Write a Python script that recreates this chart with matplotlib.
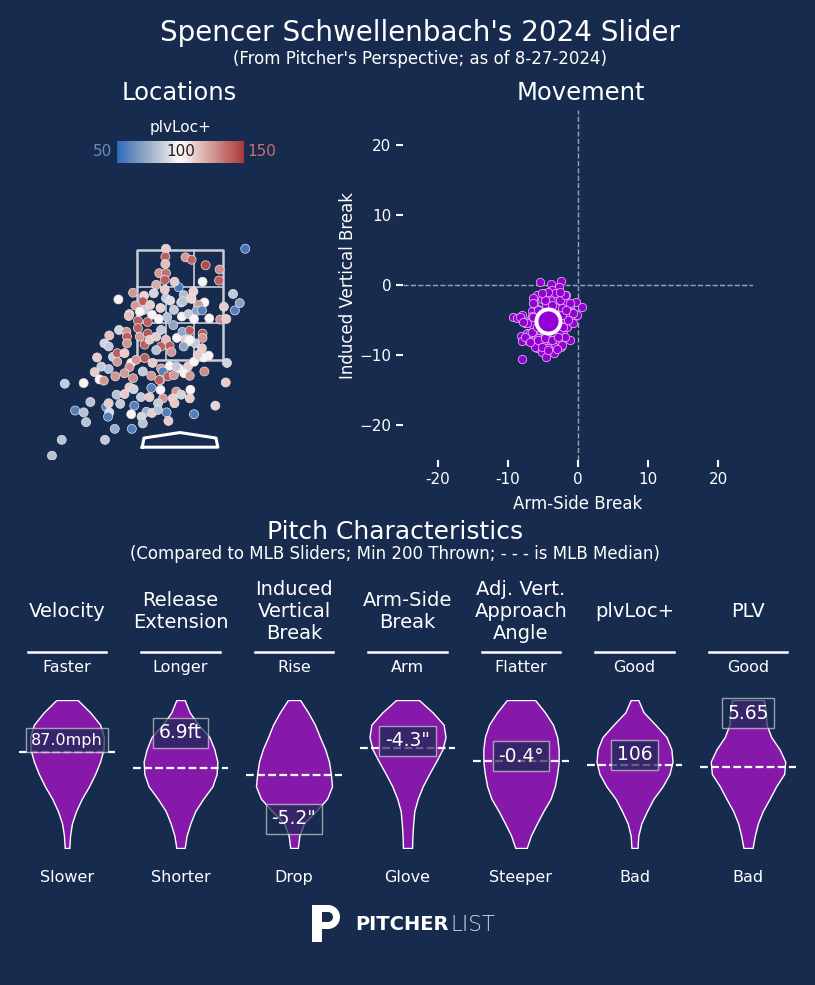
import numpy as np
import matplotlib.pyplot as plt
import seaborn as sns
from matplotlib.colors import Normalize
from matplotlib.cm import ScalarMappable
from matplotlib.patches import Rectangle, Wedge

plt.rcParams['font.family'] = ['DejaVu Sans']

BG = '#162b4e'
VIOLIN = '#8719aa'
DOT = '#9400d3'

'''________________________DATA__________________________________'''

# pitch locations (ft, pitcher's view) and plvLoc+ of each pitch
loc_x = [1.07, -0.23, -0.24, -0.24, 0.09, 0.19, 0.42, 0.65, 0.64, 0.37,
         -0.34, -0.23, -0.25, -0.39, -0.25, -0.02, 0.22, 0.06, -0.43, -0.59,
         -0.77, -1.01, -0.61, -0.23, -0.16, 0.02, 0.19, 0.40, 0.31, 0.87,
         0.98, 0.90, 0.72, -0.73, -0.83, -0.59, -0.46, -0.32, -0.10, 0.03,
         0.14, 0.27, 0.36, 0.48, 0.66, 0.76, -0.69, -0.84, -0.35, -0.21,
         0.23, -1.00, -1.16, -1.24, -1.17, -0.88, -0.87, -0.87, -0.69, -0.66,
         -0.53, -0.58, -0.50, -0.39, -0.31, -0.23, -0.31, -0.17, -0.11, -0.05,
         0.04, 0.16, 0.09, 0.14, 0.06, 0.25, 0.37, 0.37, 0.36, 0.47,
         0.39, -1.10, -1.03, -0.91, -1.36, -1.03, -0.80, -0.83, -0.72, -0.58,
         -0.45, -0.31, -0.17, -0.02, 0.13, 0.23, 0.77, -1.29, -1.40, -1.17,
         -1.06, -0.91, -0.77, -0.61, -0.47, -0.32, -0.28, -0.20, -0.10, 0.07,
         0.16, 0.40, 0.75, -1.32, -1.25, -1.89, -1.58, -0.83, -0.76, -0.47,
         -0.32, -0.06, 0.17, -1.04, -0.91, -0.64, -0.50, -0.28, -0.12, 0.02,
         0.16, -1.47, -1.21, -1.17, -0.98, -0.75, -0.36, -0.09, 0.58, -1.72,
         -1.58, -1.16, -1.18, -0.80, -0.55, -0.46, -0.36, -0.22, -0.63, 0.23,
         -0.19, -1.54, -0.61, -1.07, -0.79, -1.94, -1.23, -2.10, 0.05, 0.18,
         0.16, -0.06, -0.34, -0.49, -0.14, -0.39, 0.29, -0.53, -0.66, -0.09]
loc_z = [3.32, 3.32, 3.19, 3.07, 3.18, 3.14, 3.05, 2.98, 2.80, 2.78,
         2.92, 2.92, 2.81, 2.73, 2.65, 2.69, 2.62, 2.56, 2.59, 2.55,
         2.60, 2.49, 2.46, 2.51, 2.47, 2.44, 2.50, 2.44, 2.40, 2.58,
         2.43, 2.31, 2.37, 2.39, 2.25, 2.32, 2.24, 2.35, 2.32, 2.21,
         2.25, 2.30, 2.31, 2.18, 2.16, 2.17, 2.14, 2.22, 2.17, 2.20,
         2.17, 1.99, 1.90, 1.77, 1.72, 1.96, 1.88, 1.77, 2.02, 1.88,
         1.93, 1.75, 1.83, 1.88, 1.99, 1.83, 1.72, 1.73, 2.07, 1.86,
         1.96, 1.98, 1.83, 1.80, 1.72, 1.77, 1.93, 1.86, 1.69, 1.57,
         1.54, 1.55, 1.61, 1.61, 1.54, 1.47, 1.45, 1.38, 1.50, 1.53,
         1.45, 1.36, 1.40, 1.36, 1.39, 1.47, 1.45, 1.39, 1.30, 1.35,
         1.23, 1.28, 1.20, 1.31, 1.24, 1.17, 1.31, 1.23, 1.25, 1.28,
         1.24, 1.31, 1.13, 1.18, 1.16, 1.11, 1.12, 1.05, 1.02, 1.04,
         1.01, 0.98, 1.01, 0.93, 0.94, 0.89, 0.89, 0.87, 0.87, 0.93,
         0.87, 0.81, 0.73, 0.79, 0.78, 0.75, 0.79, 0.79, 0.75, 0.67,
         0.64, 0.64, 0.57, 0.61, 0.65, 0.63, 0.68, 0.64, 0.57, 0.61,
         0.50, 0.48, 0.46, 0.37, 0.37, 0.19, 0.19, -0.07, 2.46, 2.51,
         1.83, 1.39, 1.17, 2.40, 1.63, 1.66, 1.58, 2.12, 2.29, 2.78]
loc_plv = [55, 112, 140, 115, 125, 138, 145, 128, 140, 100,
           125, 135, 140, 120, 112, 55, 110, 80, 88, 110,
           125, 102, 140, 85, 90, 85, 108, 100, 125, 85,
           70, 58, 112, 125, 112, 85, 100, 110, 85, 100,
           85, 72, 60, 100, 128, 112, 140, 115, 100, 82,
           100, 88, 115, 88, 85, 125, 140, 125, 140, 125,
           142, 140, 112, 112, 85, 115, 140, 140, 72, 100,
           72, 140, 112, 100, 72, 85, 140, 125, 112, 100,
           100, 85, 140, 112, 112, 125, 100, 128, 125, 140,
           112, 125, 100, 100, 112, 100, 88, 85, 112, 82,
           125, 125, 128, 85, 125, 140, 58, 140, 125, 100,
           125, 128, 112, 100, 125, 85, 100, 112, 88, 58,
           100, 125, 100, 82, 112, 85, 112, 125, 112, 88,
           112, 82, 58, 112, 85, 58, 85, 112, 110, 58,
           82, 90, 58, 100, 75, 112, 82, 58, 88, 58,
           112, 82, 82, 75, 58, 82, 85, 82, 82, 110,
           100, 85, 140, 112, 125, 82, 112, 140, 100, 112]

# movement (inches)
mov_hb = [-5.43, -3.86, -2.43, -2.67, -3.43, -4.71, -5.81, -6.38, -4.24, -2.95,
          -1.71, -0.33, 0.52, -1.14, -2.10, -3.29, -4.57, -5.67, -6.62, -0.19,
          -0.90, -1.62, -2.10, -1.14, -9.33, -8.67, -7.95, -7.57, -6.86, -6.14,
          -7.33, -8.19, -7.95, -6.62, -5.67, -4.86, -3.76, -2.81, -1.14, -2.38,
          -5.90, -5.19, -4.57, -3.38, -8.05, -3.62, -3.05, -2.57, -2.10, -1.52,
          -0.67, -5.67, -6.38, -6.62, -4.95, -4.00, -2.57, -1.86, -4.48, -5.43,
          -3.62, -6.14, -6.95, -5.05, -2.76, -2.57, -1.24, -2.33, -3.62, -6.29,
          -5.19, -3.76, -3.05, -6.86, -4.95, -1.86, -4.24,
          -6.38, -5.67, -4.71, -3.76, -2.57, -1.86, -1.14, -0.67, -1.38, -2.10,
          -7.33, -6.62, -7.57, -6.86, -5.67, -4.71, -3.76, -2.81, -2.33, -5.19,
          -4.24, -3.05, -5.90, -6.38, -2.33, -1.67, -3.29, -4.24, -5.19, -2.57,
          -8.29, -7.81]
mov_ivb = [0.43, 0.14, 0.57, -0.33, -1.10, -1.19, -1.43, -1.90, -2.38, -2.14,
           -1.43, -2.38, -3.19, -3.10, -3.48, -3.10, -2.86, -3.48, -3.67, -4.29,
           -3.81, -5.00, -5.95, -4.52, -4.62, -4.76, -4.29, -5.38, -5.00, -6.43,
           -6.90, -7.29, -7.95, -7.76, -7.62, -7.71, -7.86, -7.14, -7.86, -8.81,
           -9.05, -9.52, -10.33, -9.67, -10.62, -8.57, -4.29, -5.00, -6.90, -6.05,
           -5.38, -5.00, -5.71, -4.43, -4.05, -1.67, -1.10, -2.62, -6.90, -6.43,
           -6.67, -8.90, -7.95, -8.14, -7.81, -6.43, -4.00, -3.33, -2.14, -2.71,
           -2.05, -0.71, -1.57, -6.90, -6.43, -7.38, -9.05,
           -2.62, -3.57, -2.14, -2.86, -2.14, -1.43, -2.62, -4.05, -5.00, -5.95,
           -5.48, -6.67, -7.38, -8.10, -7.86, -7.62, -7.86, -7.38, -8.57, -8.81,
           -9.29, -9.19, -5.95, -4.52, -4.29, -3.57, -1.19, -0.95, -1.19, -0.95,
           -4.52, -5.24]
mean_hb = -4.3
mean_ivb = -5.2

# pitch characteristics
metrics = ['Velocity', 'Release\nExtension', 'Induced\nVertical\nBreak',
           'Arm-Side\nBreak', 'Adj. Vert.\nApproach\nAngle', 'plvLoc+', 'PLV']
good_side = ['Faster', 'Longer', 'Rise', 'Arm', 'Flatter', 'Good', 'Good']
bad_side = ['Slower', 'Shorter', 'Drop', 'Glove', 'Steeper', 'Bad', 'Bad']
mlb_min = [76.2, 5.26, -9.3, -15.0, -4.08, 50.2, 4.03]
mlb_max = [91.0, 7.37, 11.6, -0.2, 1.84, 139.0, 5.81]
mlb_median = [85.8, 6.4, 1.0, -5.0, -0.6, 100, 5.0]
pitcher_val = [87.0, 6.9, -5.2, -4.3, -0.4, 106, 5.65]
val_labels = ['87.0mph', '6.9ft', '-5.2"', '-4.3"', '-0.4°', '106', '5.65']
# MLB density, top (max) to bottom (min), relative to widest violin
velo_dens = [0.28, 0.61, 0.87, 0.97, 0.96, 0.87, 0.74, 0.58, 0.39, 0.24, 0.13, 0.08, 0.06]
ext_dens = [0.11, 0.24, 0.47, 0.76, 0.89, 0.97, 0.95, 0.84, 0.60, 0.39, 0.26, 0.16, 0.11]
ivb_dens = [0.16, 0.37, 0.55, 0.68, 0.82, 0.92, 0.97, 1.00, 0.87, 0.58, 0.26, 0.14, 0.10]
hb_dens = [0.30, 0.66, 0.95, 1.00, 0.92, 0.75, 0.57, 0.40, 0.27, 0.18, 0.15, 0.13, 0.12]
vaa_dens = [0.37, 0.63, 0.84, 0.95, 0.99, 0.99, 0.95, 0.89, 0.78, 0.59, 0.42, 0.26, 0.15]
loc_dens = [0.10, 0.24, 0.55, 0.84, 0.97, 1.00, 0.92, 0.74, 0.50, 0.33, 0.18, 0.10, 0.08]
plv_dens = [0.42, 0.47, 0.49, 0.61, 0.83, 0.98, 0.95, 0.74, 0.57, 0.39, 0.26, 0.18, 0.12]
densities = [velo_dens, ext_dens, ivb_dens, hb_dens, vaa_dens, loc_dens, plv_dens]

W, H = 815, 985


def rect(x0, y0, x1, y1):
    # pixel box -> figure fraction
    return [x0 / W, 1 - y1 / H, (x1 - x0) / W, (y1 - y0) / H]


fig = plt.figure(figsize=(W / 100, H / 100), dpi=100, facecolor=BG)

fig.text(420 / W, 1 - 33 / H, "Spencer Schwellenbach's 2024 Slider", color='white',
         fontsize=20, ha='center', va='center')
fig.text(420 / W, 1 - 59 / H, "(From Pitcher's Perspective; as of 8-27-2024)", color='white',
         fontsize=12, ha='center', va='center')
fig.text(179 / W, 1 - 93 / H, 'Locations', color='white', fontsize=17.5, ha='center', va='center')
fig.text(581 / W, 1 - 93 / H, 'Movement', color='white', fontsize=17.5, ha='center', va='center')

''' Locations '''
cmap = sns.color_palette('vlag', as_cmap=True)
norm = Normalize(50, 150)

ax = fig.add_axes(rect(30, 170, 330, 460))
ax.set_xlim(-2.46, 2.46)
ax.set_ylim(-0.14, 4.61)
ax.axis('off')

zone_l, zone_r, zone_b, zone_t = -0.713, 0.713, 1.5, 3.3
zc = '#c9cdd6'
ax.plot([zone_l, zone_r, zone_r, zone_l, zone_l], [zone_b, zone_b, zone_t, zone_t, zone_b],
        color=zc, lw=1.8, zorder=2)
for k in (1, 2):
    xx = zone_l + k * (zone_r - zone_l) / 3
    zz = zone_b + k * (zone_t - zone_b) / 3
    ax.plot([xx, xx], [zone_b, zone_t], color=zc, lw=1.2, zorder=2)
    ax.plot([zone_l, zone_r], [zz, zz], color=zc, lw=1.2, zorder=2)

plate_x = [-0.62, 0.62, 0.59, 0.0, -0.59, -0.62]
plate_z = [0.07, 0.07, 0.22, 0.31, 0.22, 0.07]
ax.plot(plate_x, plate_z, color='white', lw=2.2, zorder=2)

ax.scatter(loc_x, loc_z, c=loc_plv, cmap=cmap, norm=norm, s=42,
           edgecolors='#e8e8ee', linewidths=0.5, zorder=3)

cax = fig.add_axes(rect(117, 141, 244, 163))
cb = fig.colorbar(ScalarMappable(norm=norm, cmap=cmap), cax=cax, orientation='horizontal')
cb.outline.set_visible(False)
cax.set_xticks([])
cax.text(0.5, 0.5, '100', transform=cax.transAxes, ha='center', va='center',
         fontsize=11, color='#222222')
cax.text(-0.04, 0.5, '50', transform=cax.transAxes, ha='right', va='center',
         fontsize=11, color='#6f8bbd')
cax.text(1.03, 0.5, '150', transform=cax.transAxes, ha='left', va='center',
         fontsize=11, color='#c9716f')
cax.text(0.5, 1.6, 'plvLoc+', transform=cax.transAxes, ha='center', va='center',
         fontsize=11, color='white')

''' Movement '''
ax2 = fig.add_axes(rect(403, 110, 753, 460))
ax2.set_facecolor('none')
ax2.set_xlim(-25, 25)
ax2.set_ylim(-25, 25)
for s in ax2.spines.values():
    s.set_visible(False)
ax2.axhline(0, color='#9aa3b5', ls='--', lw=1, zorder=1)
ax2.axvline(0, color='#9aa3b5', ls='--', lw=1, zorder=1)
ax2.scatter(mov_hb, mov_ivb, s=36, color=DOT, edgecolors='#dcaaf0', linewidths=0.6, zorder=2)
ax2.scatter([mean_hb], [mean_ivb], s=300, color=DOT, edgecolors='white', linewidths=2.8, zorder=3)

ticks = [-20, -10, 0, 10, 20]
ax2.set_xticks(ticks)
ax2.set_xticklabels(['-20', '-10', '0', '10', '20'])
ax2.set_yticks(ticks)
ax2.tick_params(colors='white', labelsize=11, length=5, width=1.5, direction='out')
ax2.set_xlabel('Arm-Side Break', color='white', fontsize=12, labelpad=6)
ax2.set_ylabel('Induced Vertical Break', color='white', fontsize=12, labelpad=1.5)

''' Pitch characteristics '''
fig.text(395 / W, 1 - 532 / H, 'Pitch Characteristics', color='white', fontsize=18,
         ha='center', va='center')
fig.text(395 / W, 1 - 554 / H, '(Compared to MLB Sliders; Min 200 Thrown; - - - is MLB Median)',
         color='white', fontsize=12, ha='center', va='center')

col_w = 113.5
for i in range(len(metrics)):
    x0 = 10.25 + col_w * i
    vax = fig.add_axes(rect(x0, 700, x0 + col_w, 848))
    vax.set_xlim(-0.5, 0.5)
    vax.set_ylim(mlb_min[i], mlb_max[i])
    vax.axis('off')

    levels = np.linspace(mlb_max[i], mlb_min[i], len(densities[i]))
    hw = np.array(densities[i]) * 0.335
    vax.fill_betweenx(levels, -hw, hw, facecolor=VIOLIN, edgecolor='white', lw=1, zorder=1)
    vax.hlines(mlb_median[i], -0.42, 0.42, colors='white', linestyles=(0, (3.5, 1.5)),
               lw=1.6, clip_on=False, zorder=2)
    fs = 11.5 if i == 0 else 13.5
    vax.text(0, pitcher_val[i], val_labels[i], ha='center', va='center', fontsize=fs,
             color='white', zorder=3, clip_on=False,
             bbox=dict(boxstyle='square,pad=0.3', fc=BG, ec='#d0d0d0', lw=1, alpha=0.7))

    vax.text(0.5, 1.601, metrics[i], transform=vax.transAxes, ha='center', va='center',
             fontsize=14, color='white', linespacing=1.2)
    vax.plot([0.156, 0.844], [1.326, 1.326], transform=vax.transAxes, color='white',
             lw=1.8, clip_on=False)
    vax.text(0.5, 1.217, good_side[i], transform=vax.transAxes, ha='center', va='center',
             fontsize=11.5, color='white')
    vax.text(0.5, -0.196, bad_side[i], transform=vax.transAxes, ha='center', va='center',
             fontsize=11.5, color='white')

''' Logo '''
lax = fig.add_axes(rect(305, 898, 345, 946))
lax.set_xlim(305, 345)
lax.set_ylim(946, 898)
lax.axis('off')
lax.add_patch(Rectangle((312, 905), 10, 37, color='white', lw=0))
lax.add_patch(Rectangle((312, 905), 16, 7, color='white', lw=0))
lax.add_patch(Rectangle((320, 922), 8, 7, color='white', lw=0))
lax.add_patch(Wedge((328, 917), 12, -90, 90, width=7, color='white', lw=0))
fig.text(355 / W, 1 - 925 / H, 'PITCHER', color='white', fontsize=14, fontweight='bold',
         ha='left', va='center')
fig.text(450 / W, 1 - 925 / H, 'LIST', color='#d4d9e2', fontsize=15.5, fontweight='light',
         ha='left', va='center')

fig.savefig('out.png', dpi=100, facecolor=BG)
